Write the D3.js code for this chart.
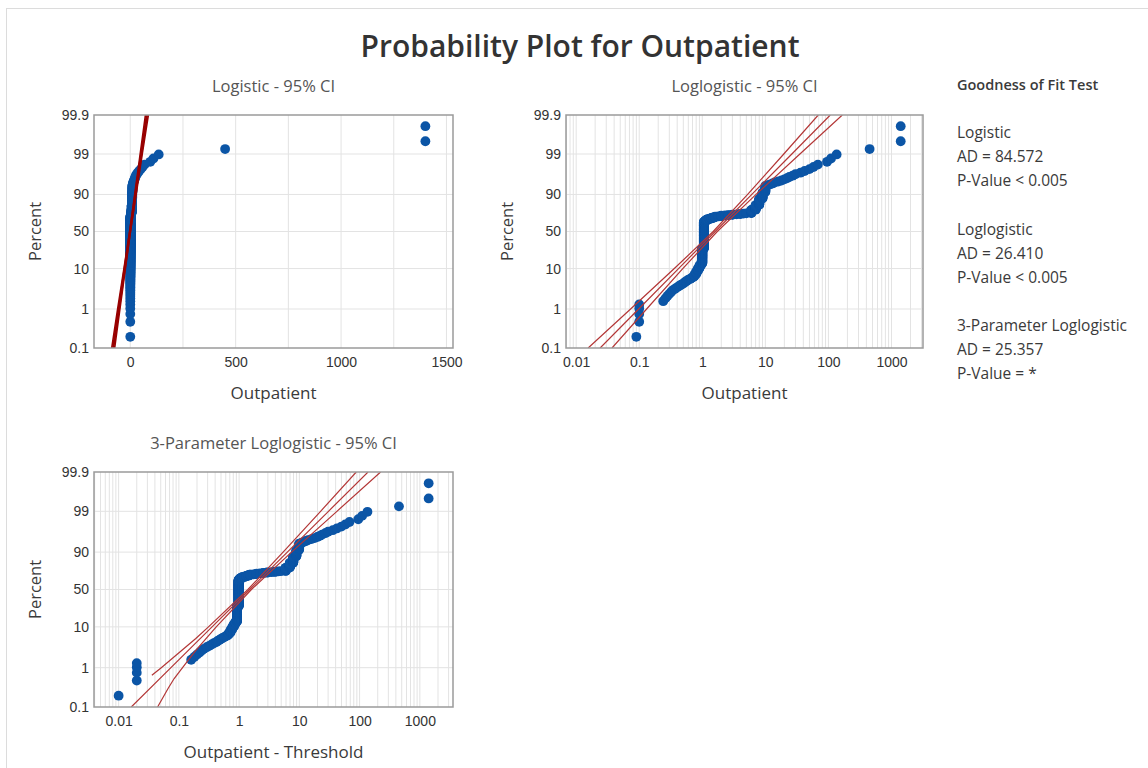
<!DOCTYPE html>
<html>
<head>
<meta charset="utf-8">
<script src="https://cdn.jsdelivr.net/npm/d3@7"></script>
<style>
  body { margin: 0; background: #fff; }
  svg { display: block; font-family: "Open Sans", "Noto Sans", sans-serif; }
</style>
</head>
<body>
<svg width="1148" height="768"></svg>
<script>
// 観測値（昇順）[値, 件数] 図から読み取った推定
const outpatientGroups = [
  [0.09, 1], [0.1, 4],
  [0.24, 1], [0.26, 1], [0.28, 1], [0.3, 1], [0.32, 1], [0.34, 1], [0.37, 1], [0.4, 1], [0.43, 1], [0.46, 1], [0.5, 1],
  [0.52, 1], [0.55, 1], [0.58, 1], [0.61, 1], [0.65, 1], [0.68, 1], [0.72, 1],
  [0.75, 3], [0.8, 5], [0.85, 5], [0.9, 6], [0.95, 5],
  [1.0, 50], [1.06, 133],
  [1.1, 5], [1.15, 5], [1.2, 3], [1.3, 3], [1.4, 3], [1.5, 3], [1.6, 3],
  [1.8, 1], [2, 3], [2.3, 1], [2.6, 2], [3, 2], [3.5, 1], [4, 2], [4.5, 1], [5, 1],
  [6, 13], [7, 16], [8, 17], [9, 13], [10, 10],
  [11, 1], [12, 1], [13, 1], [14, 1], [16, 1], [18, 1], [20, 1], [22, 1], [24, 1], [27, 1],
  [30, 1], [36, 1], [42, 1], [50, 1], [58, 1], [68, 1], [95, 1], [110, 1], [135, 1],
  [450, 1], [1400, 2]
]
// 3パラメータの閾値
const threshold = 0.08

// 目盛り
const pctTicks = [0.1, 1, 10, 50, 90, 99, 99.9]
const pctLabels = ['0.1', '1', '10', '50', '90', '99', '99.9']
const linTicks = [0, 500, 1000, 1500]
const linGrid = [0, 250, 500, 750, 1000, 1250, 1500]
const logTicks = [0.01, 0.1, 1, 10, 100, 1000]
const logLabels = ['0.01', '0.1', '1', '10', '100', '1000']

// 当てはめ線と95%信頼区間（パーセント -> 値）
const fitPct = [0.1, 1, 10, 50, 90, 99, 99.9]
const logisticFit = [-81, -54, -26.5, -1, 24.5, 52, 79]
const logisticLeft = [-88, -60, -30, -3, 21, 47, 72]
const logisticRight = [-74, -49, -23, 1, 28, 57, 86]
const loglogFit = [0.024, 0.098, 0.42, 1.6, 6.1, 26.3, 107]
const loglogLeft = [0.0155, 0.073, 0.36, 1.49, 5.24, 19.6, 69]
const loglogRight = [0.037, 0.131, 0.49, 1.73, 7.13, 35.3, 166]
const threeFit = [0.0162, 0.0738, 0.355, 1.5, 6.31, 30.4, 138]
const threeLeftPct = [0.64, 1, 5.3, 10, 50, 90, 99, 99.9]
const threeLeft = [0.0356, 0.051, 0.191, 0.31, 1.40, 5.37, 22.5, 88]
const threeRightPct = [0.1, 0.3, 0.53, 1, 2.7, 10, 50, 90, 99, 99.9]
const threeRight = [0.0443, 0.0665, 0.0836, 0.115, 0.191, 0.417, 1.60, 7.41, 42, 223]

// 適合度検定
const gofNames = ['Logistic', 'Loglogistic', '3-Parameter Loglogistic']
const gofAD = ['84.572', '26.410', '25.357']
const gofP = ['< 0.005', '< 0.005', '= *']

const svg = d3.select('svg')
const blue = '#0b55a6'
const textCol = '#3a3a3a'

// 外枠
svg.append('rect')
  .attr('x', 6.5).attr('y', 8.5).attr('width', 1200).attr('height', 800)
  .attr('fill', 'none').attr('stroke', '#dcdcdc')

svg.append('text')
  .attr('x', 580).attr('y', 57)
  .attr('text-anchor', 'middle')
  .attr('font-size', 30).attr('font-weight', 600).attr('fill', '#333')
  .text('Probability Plot for Outpatient')

// 並べ替えてメジアンランク
const values = []
outpatientGroups.forEach(([v, c]) => { for (let k = 0; k < c; k++) values.push(v) })
const n = values.length
const points = values.map((v, i) => ({ v: v, p: (i + 1 - 0.3) / (n + 0.4) * 100 }))

const logit = (pct) => Math.log((pct / 100) / (1 - pct / 100))

function drawPanel (cfg) {
  const g = svg.append('g')
  const x = cfg.x
  const y = d3.scaleLinear().domain([logit(0.1), logit(99.9)]).range([cfg.y1, cfg.y0])
  const id = 'clip' + cfg.name

  g.append('clipPath').attr('id', id)
    .append('rect')
    .attr('x', cfg.x0).attr('y', cfg.y0)
    .attr('width', cfg.x1 - cfg.x0).attr('height', cfg.y1 - cfg.y0)

  // グリッド
  g.append('g').selectAll('line')
    .data(cfg.grid)
    .enter().append('line')
    .attr('x1', (d) => x(d)).attr('x2', (d) => x(d))
    .attr('y1', cfg.y0).attr('y2', cfg.y1)
    .attr('stroke', '#e3e3e3')
  g.append('g').selectAll('line')
    .data(pctTicks.slice(1, -1))
    .enter().append('line')
    .attr('x1', cfg.x0).attr('x2', cfg.x1)
    .attr('y1', (d) => y(logit(d))).attr('y2', (d) => y(logit(d)))
    .attr('stroke', '#e3e3e3')

  // 軸
  const labelMap = new Map(pctTicks.map((p, i) => [logit(p), pctLabels[i]]))
  const yAxis = g.append('g')
    .attr('transform', `translate(${cfg.x0}, 0)`)
    .call(d3.axisLeft(y).tickValues(pctTicks.map(logit)).tickSize(0).tickPadding(5)
      .tickFormat((d) => labelMap.get(d)))
  const xAxis = g.append('g')
    .attr('transform', `translate(0, ${cfg.y1})`)
    .call(d3.axisBottom(x).tickValues(cfg.ticks).tickSize(0).tickPadding(9)
      .tickFormat((d, i) => cfg.tickLabels[i]))
  ;[yAxis, xAxis].forEach((a) => {
    a.select('.domain').remove()
    a.selectAll('text').attr('font-size', 14).attr('fill', '#333').attr('font-family', null)
  })

  // 当てはめ線
  const lineGen = d3.line()
    .x((d) => x(d[1]))
    .y((d) => y(logit(d[0])))
  const lg = g.append('g').attr('clip-path', `url(#${id})`)

  // 打点
  lg.append('g').selectAll('circle')
    .data(points)
    .enter().append('circle')
    .attr('cx', (d) => x(cfg.shift(d.v)))
    .attr('cy', (d) => y(logit(d.p)))
    .attr('r', 4.9)
    .attr('fill', blue)

  cfg.lines.forEach((ln) => {
    lg.append('path')
      .datum(ln.pct.map((p, i) => [p, ln.vals[i]]))
      .attr('d', lineGen)
      .attr('fill', 'none')
      .attr('stroke', cfg.lineColor)
      .attr('stroke-width', ln.w)
  })

  // 枠
  g.append('rect')
    .attr('x', cfg.x0).attr('y', cfg.y0)
    .attr('width', cfg.x1 - cfg.x0).attr('height', cfg.y1 - cfg.y0)
    .attr('fill', 'none').attr('stroke', '#9a9a9a').attr('stroke-width', 1.5)

  const cx = (cfg.x0 + cfg.x1) / 2
  g.append('text')
    .attr('x', cx).attr('y', cfg.y0 - 23)
    .attr('text-anchor', 'middle').attr('font-size', 16.5).attr('fill', '#555')
    .text(cfg.subtitle)
  g.append('text')
    .attr('x', cx).attr('y', cfg.y1 + 51)
    .attr('text-anchor', 'middle').attr('font-size', 17).attr('fill', textCol)
    .text(cfg.xLabel)
  g.append('text')
    .attr('transform', `translate(${cfg.x0 - 53}, ${(cfg.y0 + cfg.y1) / 2}) rotate(-90)`)
    .attr('text-anchor', 'middle').attr('font-size', 16.5).attr('fill', textCol)
    .text('Percent')
}

// Logistic
drawPanel({
  name: 'a', x0: 94, x1: 453, y0: 115, y1: 348,
  x: d3.scaleLinear().domain([-172, 1531]).range([94, 453]),
  grid: linGrid, ticks: linTicks, tickLabels: linTicks.map(String),
  shift: (v) => v,
  lineColor: '#980000',
  lines: [
    { pct: fitPct, vals: logisticLeft, w: 1.6 },
    { pct: fitPct, vals: logisticRight, w: 1.6 },
    { pct: fitPct, vals: logisticFit, w: 2.4 }
  ],
  subtitle: 'Logistic - 95% CI', xLabel: 'Outpatient'
})

// ログ目盛りの補助線
function logGrid (lo, hi) {
  const out = []
  for (let e = -3; e <= 3; e++) {
    for (let k = 1; k <= 9; k++) {
      const v = k * Math.pow(10, e)
      if (v > lo && v < hi) out.push(v)
    }
  }
  return out
}

// Loglogistic
drawPanel({
  name: 'b', x0: 566, x1: 923, y0: 115, y1: 348,
  x: d3.scaleLog().domain([0.0069, 3160]).range([566, 923]),
  grid: logGrid(0.0069, 3160), ticks: logTicks, tickLabels: logLabels,
  shift: (v) => v,
  lineColor: '#b33636',
  lines: [
    { pct: fitPct, vals: loglogLeft, w: 1.2 },
    { pct: fitPct, vals: loglogFit, w: 1.2 },
    { pct: fitPct, vals: loglogRight, w: 1.2 }
  ],
  subtitle: 'Loglogistic - 95% CI', xLabel: 'Outpatient'
})

// 3-Parameter Loglogistic
drawPanel({
  name: 'c', x0: 94, x1: 453, y0: 472, y1: 707,
  x: d3.scaleLog().domain([0.0039, 3550]).range([94, 453]),
  grid: logGrid(0.0039, 3550), ticks: logTicks, tickLabels: logLabels,
  shift: (v) => v - threshold,
  lineColor: '#b33636',
  lines: [
    { pct: threeLeftPct, vals: threeLeft, w: 1.2 },
    { pct: fitPct, vals: threeFit, w: 1.2 },
    { pct: threeRightPct, vals: threeRight, w: 1.2 }
  ],
  subtitle: '3-Parameter Loglogistic - 95% CI', xLabel: 'Outpatient - Threshold'
})

// 適合度検定の表
const gof = svg.append('g').attr('font-size', 15.5).attr('fill', textCol)
gof.append('text')
  .attr('x', 957).attr('y', 90)
  .attr('font-size', 14.5).attr('font-weight', 600)
  .text('Goodness of Fit Test')
gofNames.forEach((name, i) => {
  const top = 138 + i * 96.5
  gof.append('text').attr('x', 957).attr('y', top).text(name)
  gof.append('text').attr('x', 957).attr('y', top + 24).text('AD = ' + gofAD[i])
  gof.append('text').attr('x', 957).attr('y', top + 48).text('P-Value ' + gofP[i])
})
</script>
</body>
</html>
